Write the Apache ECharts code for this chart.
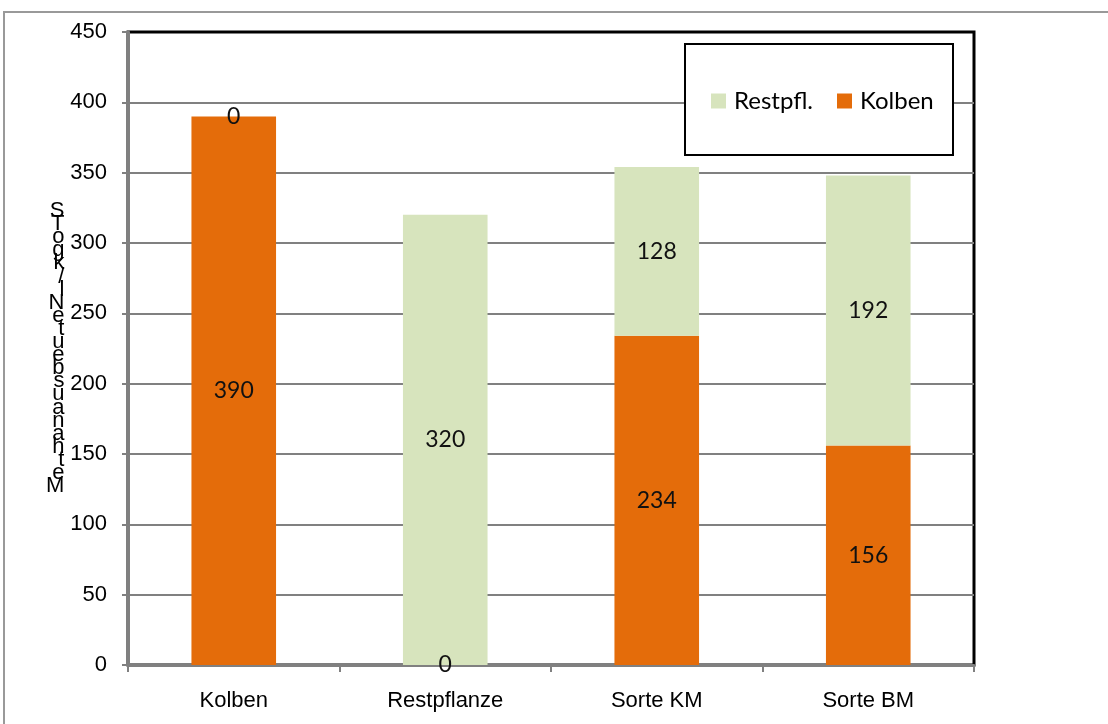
<!DOCTYPE html>
<html>
<head>
<meta charset="utf-8">
<script src="https://cdn.jsdelivr.net/npm/echarts@6/dist/echarts.min.js"></script>
<style>
html,body{margin:0;padding:0;background:#fff;}
#chart{width:1108px;height:724px;}
</style>
</head>
<body>
<div id="chart"></div>
<script>
var categories = ['Kolben', 'Restpflanze', 'Sorte KM', 'Sorte BM'];
var kolbenValues = [390, 0, 234, 156];
var restValues = [0, 320, 120, 192];
var restLabels = [0, 320, 128, 192];
var yTicks = [0, 50, 100, 150, 200, 250, 300, 350, 400, 450];
var yTitle = 'MethanausbeuteNl/kgoTS';

var chart = echarts.init(document.getElementById('chart'), null, {renderer: 'canvas'});
var titleVertical = yTitle.split('').reverse().join('\n');

chart.setOption({
  animation: false,
  backgroundColor: '#fff',
  grid: {left: 128, right: 134, top: 32, bottom: 59, show: true, borderColor: '#000', borderWidth: 3, backgroundColor: 'transparent'},
  graphic: [
    {type: 'rect', shape: {x: 4, y: 12, width: 1200, height: 800}, style: {fill: 'none', stroke: '#999', lineWidth: 2}, z: -10},
    {type: 'rect', shape: {x: 685, y: 44, width: 268, height: 111}, style: {fill: '#fff', stroke: '#000', lineWidth: 2}, z: 10}
  ],
  legend: {
    data: ['Restpfl.', 'Kolben'],
    left: 706, top: 84,
    itemWidth: 15, itemHeight: 15, itemGap: 24,
    icon: 'rect',
    z: 20,
    textStyle: {fontFamily: 'Lato', fontSize: 24, color: '#000', padding: [0, 0, 0, 3]}
  },
  xAxis: {
    type: 'category',
    data: categories,
    axisLine: {lineStyle: {color: '#808080', width: 3}},
    axisTick: {show: true, length: 7, lineStyle: {color: '#808080', width: 2}},
    axisLabel: {fontFamily: 'Liberation Sans', fontSize: 22, color: '#000', margin: 25}
  },
  yAxis: {
    type: 'value',
    min: 0, max: 450, interval: 50,
    name: titleVertical,
    nameLocation: 'middle',
    nameRotate: 0,
    nameGap: 62,
    nameTextStyle: {fontFamily: 'Liberation Sans', fontSize: 22, color: '#000', lineHeight: 13.1},
    axisLine: {show: true, lineStyle: {color: '#808080', width: 3}},
    axisTick: {show: true, length: 6, lineStyle: {color: '#808080', width: 2}},
    splitLine: {showMaxLine: false, lineStyle: {color: '#808080', width: 2}},
    axisLabel: {fontFamily: 'Liberation Sans', fontSize: 22, color: '#000', margin: 21,
      formatter: function (v) { return yTicks.indexOf(v) >= 0 ? String(v) : ''; }}
  },
  series: [
    {
      name: 'Kolben', type: 'bar', stack: 'total', barWidth: '40%',
      data: kolbenValues,
      itemStyle: {color: '#E46C0A'},
      label: {show: true, position: 'inside', fontFamily: 'Lato', fontSize: 23, color: '#111'}
    },
    {
      name: 'Restpfl.', type: 'bar', stack: 'total', barWidth: '40%',
      data: restValues,
      itemStyle: {color: '#D7E4BD'},
      label: {show: true, position: 'inside', fontFamily: 'Lato', fontSize: 23, color: '#111',
        formatter: function (p) { return String(restLabels[p.dataIndex]); }}
    }
  ]
});
</script>
</body>
</html>
